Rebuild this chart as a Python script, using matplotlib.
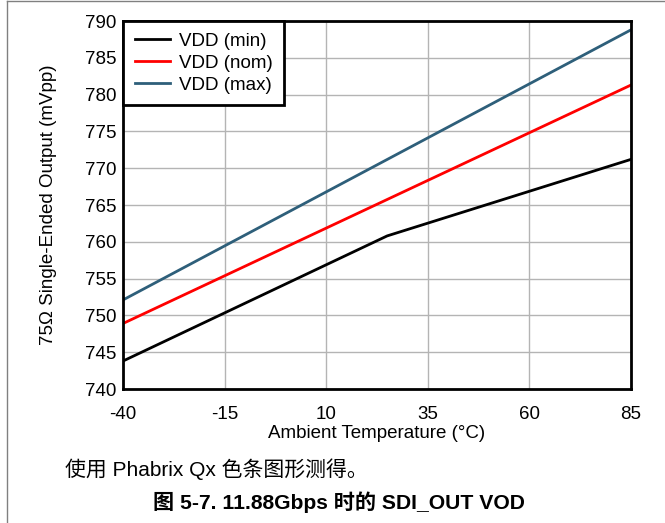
import matplotlib
matplotlib.use('Agg')
import matplotlib.pyplot as plt
from matplotlib.lines import Line2D

plt.rcParams['font.family'] = ['Liberation Sans', 'Noto Sans CJK SC', 'DejaVu Sans']
plt.rcParams['axes.unicode_minus'] = False

temp_min = [-40, 25, 85]
vdd_min = [743.8, 760.8, 771.2]
temp_lin = [-40, 85]
vdd_nom = [748.9, 781.3]
vdd_max = [752.1, 788.8]

x_ticks = [-40, -15, 10, 35, 60, 85]
y_ticks = list(range(740, 791, 5))

fig = plt.figure(figsize=(6.65, 5.23), dpi=100)
ax = fig.add_axes([123 / 665, 1 - 389 / 523, 508 / 665, 368 / 523])

ax.plot(temp_min, vdd_min, color='black', lw=2, label='VDD (min)')
ax.plot(temp_lin, vdd_nom, color='#ff0000', lw=2, label='VDD (nom)')
ax.plot(temp_lin, vdd_max, color='#2e5f7a', lw=2, label='VDD (max)')

ax.set_xlim(-40, 85)
ax.set_ylim(740, 790)
ax.set_xticks(x_ticks)
ax.set_yticks(y_ticks)
ax.tick_params(labelsize=13.5, length=0)
ax.tick_params(axis='x', pad=12.5)
ax.tick_params(axis='y', pad=5)
ax.grid(color='#b4b4b4', lw=1)
for s in ax.spines.values():
    s.set_linewidth(2)
    s.set_color('black')

ax.set_xlabel('Ambient Temperature (°C)', fontsize=13.5, labelpad=1)
ax.set_ylabel('75Ω Single-Ended Output (mVpp)', fontsize=13.5, labelpad=20)

leg = ax.legend(loc='upper left', bbox_to_anchor=(0, 1), fontsize=13.5,
                frameon=True, fancybox=False, borderaxespad=0,
                handlelength=1.87, handletextpad=0.48, labelspacing=0.26,
                borderpad=0.62)
leg.get_frame().set_edgecolor('black')
leg.get_frame().set_linewidth(2)
leg.get_frame().set_alpha(1)

fig.text(65 / 665, 1 - 469 / 523, '使用 Phabrix Qx 色条图形测得。', fontsize=15,
         va='center', ha='left', family=['Liberation Sans', 'Noto Sans CJK SC'])
fig.text(339 / 665, 1 - 502 / 523, '图 5-7. 11.88Gbps 时的 SDI_OUT VOD', fontsize=15.2,
         fontweight='bold', va='center', ha='center',
         family=['Liberation Sans', 'Noto Sans CJK SC'])

fig.add_artist(Line2D([7 / 665, 7 / 665], [0, 1 - 1 / 523], transform=fig.transFigure,
                      color='#808080', lw=1))
fig.add_artist(Line2D([7 / 665, 1], [1 - 1 / 523, 1 - 1 / 523], transform=fig.transFigure,
                      color='#808080', lw=1))

fig.savefig('out.png', dpi=100)
